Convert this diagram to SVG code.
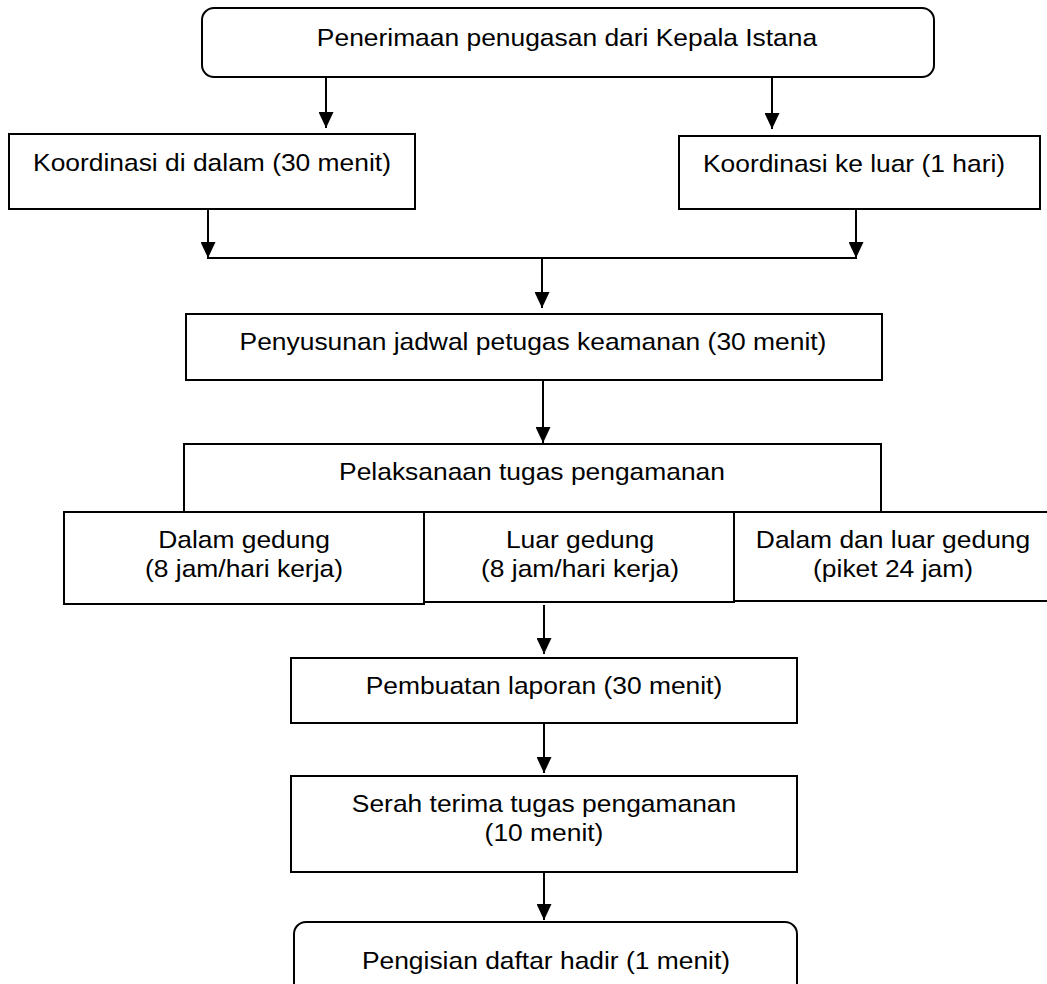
<svg xmlns="http://www.w3.org/2000/svg" width="1047" height="984" viewBox="0 0 1047 984">
<style>
.box{fill:#fff;stroke:#000;stroke-width:2}
.t{font-family:"Liberation Sans",Arial,sans-serif;font-size:24px;fill:#000;text-anchor:middle}
.c{fill:none;stroke:#000;stroke-width:2}
</style>
<defs>
<marker id="ah" viewBox="0 0 16 15" refX="16" refY="7.5" markerWidth="16" markerHeight="15" markerUnits="userSpaceOnUse" orient="auto">
<path d="M0,0 L16,7.5 L0,15 z" fill="#000"/>
</marker>
</defs>
<rect width="1047" height="984" fill="#fff"/>
<g id="connectors">
<line class="c" x1="326" y1="78" x2="326" y2="128" marker-end="url(#ah)"/>
<line class="c" x1="772" y1="78" x2="772" y2="129" marker-end="url(#ah)"/>
<line class="c" x1="208" y1="209" x2="208" y2="258" marker-end="url(#ah)"/>
<line class="c" x1="856" y1="209" x2="856" y2="258" marker-end="url(#ah)"/>
<line class="c" x1="207" y1="258" x2="857" y2="258"/>
<line class="c" x1="542" y1="258" x2="542" y2="308" marker-end="url(#ah)"/>
<line class="c" x1="543" y1="380" x2="543" y2="443" marker-end="url(#ah)"/>
<line class="c" x1="544" y1="605" x2="544" y2="654" marker-end="url(#ah)"/>
<line class="c" x1="544" y1="723" x2="544" y2="773" marker-end="url(#ah)"/>
<line class="c" x1="544" y1="872" x2="544" y2="920" marker-end="url(#ah)"/>
</g>
<g id="n1">
<rect class="box" x="202" y="8" width="732" height="69" rx="12"/>
<text class="t" transform="translate(567,46) scale(1.1,1)">Penerimaan penugasan dari Kepala Istana</text>
</g>
<g id="n2">
<rect class="box" x="9" y="134" width="406" height="75"/>
<text class="t" transform="translate(212,171) scale(1.1,1)">Koordinasi di dalam (30 menit)</text>
</g>
<g id="n3">
<rect class="box" x="679" y="136" width="361" height="73"/>
<text class="t" transform="translate(854,172) scale(1.1,1)">Koordinasi ke luar (1 hari)</text>
</g>
<g id="n4">
<rect class="box" x="186" y="314" width="696" height="66"/>
<text class="t" transform="translate(533,350) scale(1.1,1)">Penyusunan jadwal petugas keamanan (30 menit)</text>
</g>
<g id="n5">
<rect class="box" x="184" y="444" width="697" height="68"/>
<text class="t" transform="translate(532,480) scale(1.1,1)">Pelaksanaan tugas pengamanan</text>
</g>
<g id="n6">
<rect class="box" x="64" y="512" width="360" height="92"/>
<text class="t" transform="translate(244,548) scale(1.1,1)">Dalam gedung</text>
<text class="t" transform="translate(244,577) scale(1.1,1)">(8 jam/hari kerja)</text>
</g>
<g id="n7">
<rect class="box" x="424" y="512" width="310" height="90"/>
<text class="t" transform="translate(580,548) scale(1.1,1)">Luar gedung</text>
<text class="t" transform="translate(580,577) scale(1.1,1)">(8 jam/hari kerja)</text>
</g>
<g id="n8">
<rect class="box" x="734" y="512" width="330" height="89"/>
<text class="t" transform="translate(893,548) scale(1.1,1)">Dalam dan luar gedung</text>
<text class="t" transform="translate(893,577) scale(1.1,1)">(piket 24 jam)</text>
</g>
<g id="n9">
<rect class="box" x="291" y="658" width="506" height="65"/>
<text class="t" transform="translate(544,694) scale(1.1,1)">Pembuatan laporan (30 menit)</text>
</g>
<g id="n10">
<rect class="box" x="291" y="776" width="506" height="96"/>
<text class="t" transform="translate(544,812) scale(1.1,1)">Serah terima tugas pengamanan</text>
<text class="t" transform="translate(544,841) scale(1.1,1)">(10 menit)</text>
</g>
<g id="n11">
<rect class="box" x="294" y="922" width="503" height="90" rx="12"/>
<text class="t" transform="translate(546,969) scale(1.1,1)">Pengisian daftar hadir (1 menit)</text>
</g>
</svg>
